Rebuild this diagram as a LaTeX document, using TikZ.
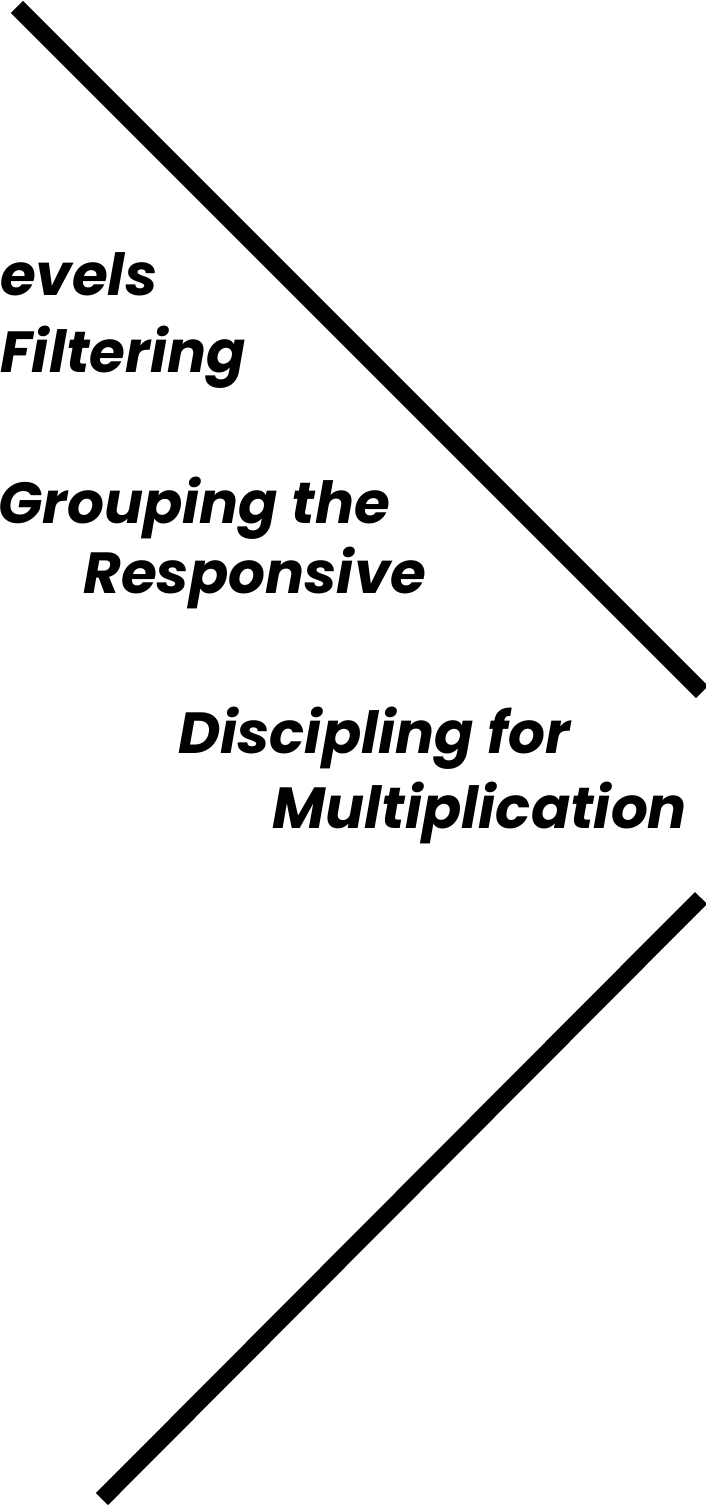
\documentclass[tikz,border=0pt]{standalone}
\usepackage{fontspec}
\setmainfont{Poppins}[BoldItalicFont={Poppins Bold Italic}]
\begin{document}
\begin{tikzpicture}[x=1pt,y=-1pt,
  bar/.style={line width=17pt,line cap=butt,black},
  lbl/.style={anchor=base west,inner sep=0pt,font=\fontsize{58}{70}\selectfont\bfseries\itshape}]
\useasboundingbox (0,0) rectangle (705,1506);
\coordinate (a1) at (17,7);
\coordinate (a2) at (702,692);
\coordinate (b1) at (701,898);
\coordinate (b2) at (102,1499);
\draw[bar] (a1) -- (a2);
\draw[bar] (b1) -- (b2);
\node[lbl] (t1) at (0,295) {evels};
\node[lbl] (t2) at (0,372) {Filtering};
\node[lbl] (t3) at (-2,523) {Grouping the};
\node[lbl] (t4) at (83,593) {Responsive};
\node[lbl] (t5) at (178,753) {Discipling for};
\node[lbl] (t6) at (272,828) {Multiplication};
\end{tikzpicture}
\end{document}
